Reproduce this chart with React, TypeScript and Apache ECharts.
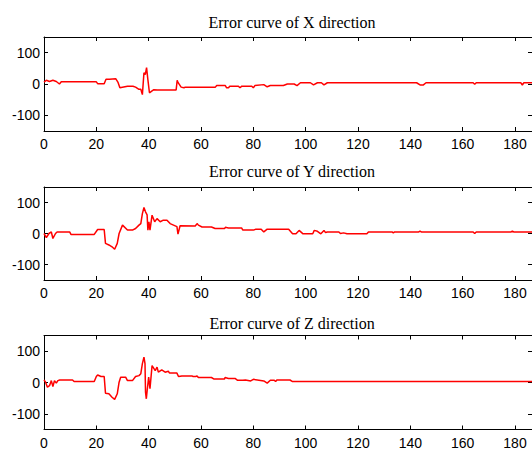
import React, { useEffect, useRef } from "react";
import * as echarts from "echarts";

const titles = ["Error curve of X direction", "Error curve of Y direction", "Error curve of Z direction"];
const xTicks = [0, 20, 40, 60, 80, 100, 120, 140, 160, 180];
const yTicks = [-100, 0, 100];

const errX: [number, number][] = [
  [0, 6], [0.9, 12], [2.1, 8], [3.4, 12], [4.7, 8], [5.9, 0], [6.6, 7], [20, 7], [20.5, 1], [23, 1],
  [23.7, 15], [25, 15], [27.4, 17], [28.3, 5], [29, -12], [31.9, -7], [34, -7], [35, -10], [36.3, -17],
  [37, -17], [37.6, -34], [38.2, 36], [38.7, 30], [39.2, 52], [39.7, 14], [40.3, -28], [41.3, -22],
  [42, -18], [43.3, -19], [50.5, -19], [50.9, 12], [51.2, 5], [52.4, -10], [53.5, -12], [54, -10],
  [65.5, -10], [66, -5], [69.3, -5], [69.8, -12], [70.5, -12], [71, -7], [74.3, -7], [74.9, -12],
  [75.6, -7], [79.4, -7], [80, -12], [80.6, -5], [84, -2], [85.3, -9], [86.5, -5], [91.5, -5], [93, 0],
  [95.6, 0], [96.7, -5], [98, 4], [101.8, 4], [103, -3], [104.5, 4], [106, 4], [107, -3], [108.3, 4],
  [142.4, 4], [143.7, -3], [145, -3], [146, 4], [164, 4], [164.6, -1], [165.2, 4], [182.2, 4],
  [182.8, -3], [183.4, 4], [186.5, 4]
];

const errY: [number, number][] = [
  [0, 0], [0.9, -13], [1.9, 0], [2.8, 5], [3.4, -16], [4.4, 0], [5, 5], [9.8, 5], [10.3, -3], [19.2, -3],
  [20.5, 13], [23, 13], [23.5, -32], [24.8, -37], [26, -43], [27, -51], [28, -32], [28.7, 0], [30, 27],
  [31.9, 11], [33.8, 11], [35, 16], [36.3, 27], [37, 32], [37.6, 64], [38.2, 84], [38.8, 70], [39.4, 60],
  [39.7, 11], [40.1, 38], [40.5, 11], [41.3, 59], [42.3, 38], [43.2, 48], [44.4, 38], [45.6, 43],
  [47, 43], [48.2, 32], [49.5, 27], [50.8, 22], [51.2, -2], [52, 25], [57.8, 24], [58.5, 32], [59, 27],
  [60.4, 21], [64, 21], [65.4, 16], [69, 16], [69.3, 20], [70.5, 18], [75.5, 18], [76, 11], [80, 11],
  [81, 14], [83, 14], [84, 5], [85.3, 14], [93.5, 14], [95, -1], [96.3, -1], [97.5, 10], [99, -1],
  [102.7, -1], [103.3, 10], [104.5, 7], [105.8, -1], [107, 10], [107.6, 3], [108.3, 5], [112.7, 5],
  [113.3, 0], [114.5, 2], [115.8, -1], [123.4, -1], [124, 5], [133, 5], [133.5, 2], [134, 5],
  [143.2, 5], [143.7, 8], [144.2, 5], [164, 5], [164.6, 0], [165.2, 5], [178.5, 5], [179, 8],
  [179.5, 5], [186.5, 5]
];

const errZ: [number, number][] = [
  [0, 8], [0.6, 1], [1.3, -15], [2.1, -10], [2.8, 6], [3.4, -13], [4, 6], [4.7, -2], [5.3, 6], [6, 8],
  [10.9, 8], [11.5, 3], [19.2, 3], [20, 19], [20.5, 24], [21.8, 19], [23, 19], [23.5, -34], [24.8, -36],
  [26, -47], [27, -54], [28, -36], [28.7, 1], [29.3, 17], [31.2, 17], [31.9, 6], [33.8, 6], [35, 19],
  [36.3, 22], [37, 28], [37.6, 60], [38.2, 81], [38.6, 60], [38.8, -31], [39.1, -52], [39.5, -20],
  [40, 17], [40.5, -20], [41.3, 54], [42.5, 38], [43.2, 49], [43.7, 33], [45, 40], [46.3, 33],
  [47.5, 36], [48, 30], [50.8, 30], [51.4, 19], [52.7, 21], [56.5, 21], [57, 19], [58, 19], [58.5, 21],
  [59, 16], [64, 16], [65, 11], [69, 11], [69.2, 16], [70.5, 13], [73, 13], [74, 7], [76, 7], [77, 8],
  [79, 5], [80, 10], [84, 5], [85.3, -2], [86.5, 7], [88, 7], [88.5, 3], [89, 8], [94, 8], [95, 3],
  [186.5, 3]
];

const seriesData = [errX, errY, errZ];

export default function App() {
  const ref = useRef<HTMLDivElement>(null);
  useEffect(() => {
    if (!ref.current) return;
    const chart = echarts.init(ref.current, undefined, { renderer: "svg" });
    const gridTops = [37, 187, 335.5];
    const gridHeights = [94, 93, 94];
    const titleYs = [22, 171.5, 323.5];
    const black = "#000";
    const grids: any[] = [];
    const xAxes: any[] = [];
    const yAxes: any[] = [];
    const series: any[] = [];
    const graphics: any[] = [];
    for (let i = 0; i < 3; i++) {
      grids.push({ left: 44, width: 492, top: gridTops[i], height: gridHeights[i] });
      const common = {
        gridIndex: i,
        type: "value",
        splitLine: { show: false },
        axisLine: { show: true, onZero: false, lineStyle: { color: black, width: 1 } },
      };
      xAxes.push({
        ...common,
        min: 0,
        max: 186.5,
        position: "bottom",
        axisTick: { show: true, inside: true, length: 4, customValues: xTicks, lineStyle: { color: black } },
        axisLabel: {
          show: true,
          customValues: xTicks,
          color: black,
          fontSize: 14,
          fontFamily: "Liberation Sans",
          margin: 6,
        },
      });
      xAxes.push({
        ...common,
        min: 0,
        max: 186.5,
        position: "top",
        axisTick: { show: true, inside: true, length: 4, customValues: xTicks, lineStyle: { color: black } },
        axisLabel: { show: false },
      });
      yAxes.push({
        ...common,
        min: -150,
        max: 150,
        position: "left",
        axisTick: { show: true, inside: true, length: 4, customValues: yTicks, lineStyle: { color: black } },
        axisLabel: {
          show: true,
          customValues: yTicks,
          color: black,
          fontSize: 14,
          fontFamily: "Liberation Sans",
          margin: 4,
        },
      });
      yAxes.push({
        ...common,
        min: -150,
        max: 150,
        position: "right",
        axisTick: { show: true, inside: true, length: 4, customValues: yTicks, lineStyle: { color: black } },
        axisLabel: { show: false },
      });
      series.push({
        type: "line",
        xAxisIndex: 2 * i,
        yAxisIndex: 2 * i,
        data: seriesData[i],
        showSymbol: false,
        symbol: "none",
        lineStyle: { color: "#ff0000", width: 1.5 },
      });
      graphics.push({
        type: "text",
        x: 292,
        y: titleYs[i],
        style: {
          text: titles[i],
          fill: black,
          fontSize: 16,
          fontFamily: "Liberation Serif",
          align: "center",
          verticalAlign: "middle",
        },
      });
    }
    chart.setOption({
      animation: false,
      backgroundColor: "#fff",
      grid: grids,
      xAxis: xAxes,
      yAxis: yAxes,
      series,
      graphic: graphics,
    });
    return () => chart.dispose();
  }, []);
  return (
    <div
      ref={ref}
      style={{ position: "absolute", left: 0, top: 0, width: 532, height: 450, background: "#fff" }}
    />
  );
}
